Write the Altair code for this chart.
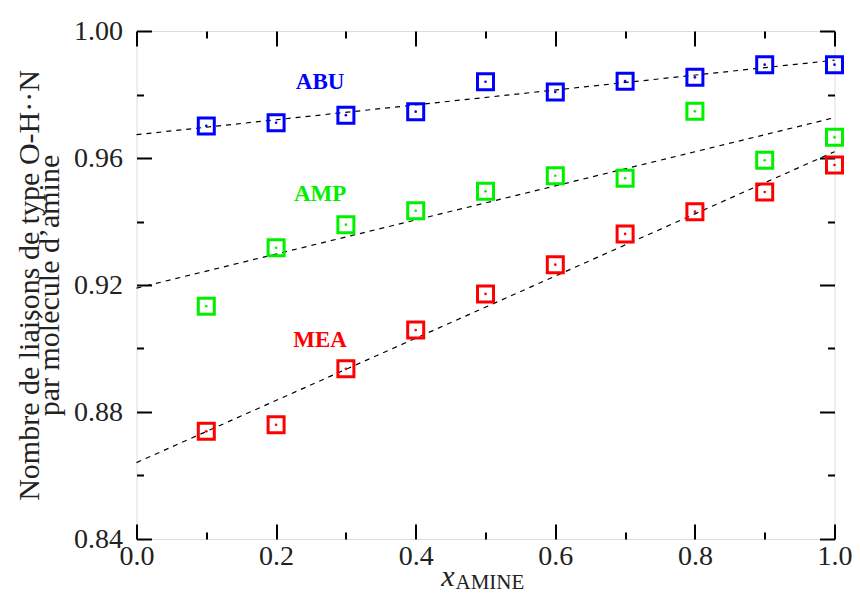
import altair as alt
import pandas as pd

# ---------------- data ----------------
x_amine = [0.1, 0.2, 0.3, 0.4, 0.5, 0.6, 0.7, 0.8, 0.9, 1.0]
abu = [0.9701, 0.9711, 0.9735, 0.9746, 0.9840, 0.9808, 0.9842, 0.9854, 0.9894, 0.9894]
amp = [0.9133, 0.9317, 0.9390, 0.9434, 0.9495, 0.9544, 0.9536, 0.9747, 0.9593, 0.9665]
mea = [0.8739, 0.8760, 0.8936, 0.9058, 0.9172, 0.9264, 0.9361, 0.9431, 0.9493, 0.9578]

series_names = ["ABU", "AMP", "MEA"]
series_colors = ["#0000ff", "#00f000", "#ff0000"]
label_x = [0.263, 0.263, 0.263]
label_y = [0.9838, 0.9487, 0.9027]

x_major = [0.0, 0.2, 0.4, 0.6, 0.8, 1.0]
x_minor = [0.1, 0.3, 0.5, 0.7, 0.9]
y_major = [0.84, 0.88, 0.92, 0.96, 1.00]
y_minor = [0.86, 0.90, 0.94, 0.98]

y_title = ["Nombre de liaisons de type O-H\u00b7\u00b7N", "par mol\u00e9cule d\u2019amine"]
x_title_main = ["x"]
x_title_sub = ["AMINE"]

rows = []
for name, vals in zip(series_names, [abu, amp, mea]):
    for xv, yv in zip(x_amine, vals):
        rows.append({"series": name, "x": xv, "y": yv})
df = pd.DataFrame(rows)
labels_df = pd.DataFrame({"series": series_names, "x": label_x, "y": label_y})

FONT = "Liberation Serif"
TXT = "#222222"

xs = alt.Scale(domain=[0, 1], nice=False, zero=False)
ys = alt.Scale(domain=[0.84, 1.0], nice=False, zero=False)
color = alt.Color("series:N", scale=alt.Scale(domain=series_names, range=series_colors), legend=None)

tick_common = dict(domain=False, grid=False, tickColor="black", tickWidth=2, title=None)


def tick_axis(orient, values, size, labels=False, **kw):
    opts = dict(tick_common)
    opts.update(dict(orient=orient, values=values, offset=-size, tickSize=size, labels=labels))
    opts.update(kw)
    return alt.Axis(**opts)


ax_bottom = tick_axis("bottom", x_major, 15, labels=True, format=".1f", labelFont=FONT,
                      labelFontSize=28, labelColor=TXT, labelPadding=3, labelFlush=False,
                      labelOverlap=False, labelBound=False)
ax_left = alt.Axis(orient="left", values=y_major, offset=-15, tickSize=15, format=".2f",
                   domain=False, grid=False, tickColor="black", tickWidth=2,
                   labels=True, labelFont=FONT, labelFontSize=28, labelColor=TXT,
                   labelPadding=14, labelFlush=False, labelOverlap=False, labelBound=False,
                   title=y_title, titleFont=FONT, titleFontSize=30, titleFontWeight="normal",
                   titleColor=TXT, titleLineHeight=20, titlePadding=9)
ax_bottom_minor = tick_axis("bottom", x_minor, 7)
ax_left_minor = tick_axis("left", y_minor, 7)
ax_top = tick_axis("top", x_major, 15)
ax_right = tick_axis("right", y_major, 15)
ax_top_minor = tick_axis("top", x_minor, 7)
ax_right_minor = tick_axis("right", y_minor, 7)

base = alt.Chart(df)

squares = base.mark_point(shape="square", size=256, strokeWidth=3, filled=False, opacity=1).encode(
    x=alt.X("x:Q", scale=xs, axis=ax_bottom),
    y=alt.Y("y:Q", scale=ys, axis=ax_left),
    color=color,
)
inv2 = base.mark_point(opacity=0).encode(
    x=alt.X("x:Q", scale=xs, axis=ax_bottom_minor),
    y=alt.Y("y:Q", scale=ys, axis=ax_left_minor),
)
inv3 = base.mark_point(opacity=0).encode(
    x=alt.X("x:Q", scale=xs, axis=ax_top),
    y=alt.Y("y:Q", scale=ys, axis=ax_right),
)
inv4 = base.mark_point(opacity=0).encode(
    x=alt.X("x:Q", scale=xs, axis=ax_top_minor),
    y=alt.Y("y:Q", scale=ys, axis=ax_right_minor),
)
dots = base.mark_circle(size=7, opacity=1).encode(
    x=alt.X("x:Q", scale=xs, axis=None),
    y=alt.Y("y:Q", scale=ys, axis=None),
    color=color,
)
fits = base.transform_regression("x", "y", groupby=["series"], extent=[0, 1]).mark_line(
    color="black", strokeWidth=1.2, strokeDash=[5, 5]
).encode(
    x=alt.X("x:Q", scale=xs, axis=None),
    y=alt.Y("y:Q", scale=ys, axis=None),
    detail="series:N",
)
names = alt.Chart(labels_df).mark_text(font=FONT, fontSize=23, fontWeight="bold", baseline="middle").encode(
    x=alt.X("x:Q", scale=xs, axis=None),
    y=alt.Y("y:Q", scale=ys, axis=None),
    text="series:N",
    color=color,
)
xt_main = alt.Chart(pd.DataFrame({"t": x_title_main})).mark_text(
    font=FONT, fontSize=30, fontStyle="italic", align="right", baseline="alphabetic", color=TXT
).encode(x=alt.value(318), y=alt.value(555), text="t:N")
xt_sub = alt.Chart(pd.DataFrame({"t": x_title_sub})).mark_text(
    font=FONT, fontSize=21, align="left", baseline="alphabetic", color=TXT
).encode(x=alt.value(319), y=alt.value(558), text="t:N")

chart = alt.layer(
    fits, squares, dots, inv2, inv3, inv4, names, xt_main, xt_sub
).resolve_axis(
    x="independent", y="independent"
).properties(
    width=698, height=508,
    autosize=alt.AutoSizeParams(type="none"),
    padding={"left": 128.5, "top": 23, "right": 17.5, "bottom": 57},
).configure_view(
    stroke="black", strokeWidth=3.5
).configure(
    background="white"
)

chart.save("out.html", embed_options={"renderer": "svg", "actions": False})
